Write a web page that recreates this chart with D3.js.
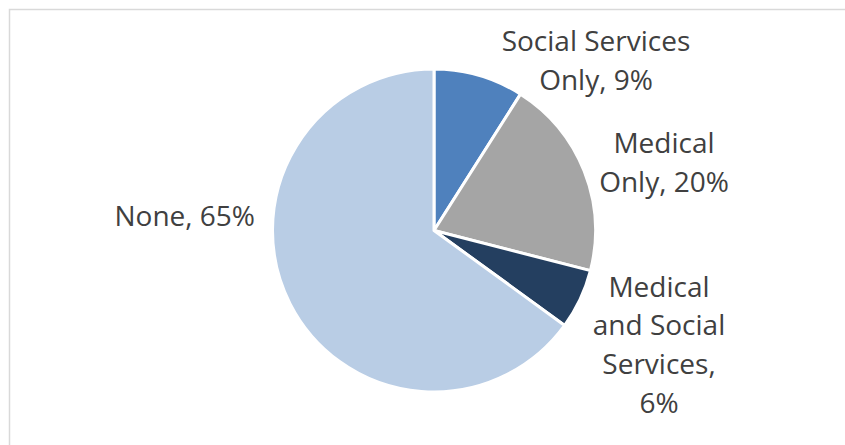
<!DOCTYPE html>
<html lang="en">
  <head>
    <meta charset="UTF-8" />
    <title>Pie Chart: Services</title>
    <script src="https://d3js.org/d3.v7.min.js"></script>
    <style>
      body { margin: 0; background: #fff; }
    </style>
  </head>
  <body>
    <div id="chart"></div>

    <script>
      // Slices, in clockwise order from 12 o'clock
      const categories = [
        "Social Services Only",
        "Medical Only",
        "Medical and Social Services",
        "None",
      ];
      const values = [9, 20, 6, 65];
      // label lines as shown on the chart
      const labelLines = [
        ["Social Services", "Only, 9%"],
        ["Medical", "Only, 20%"],
        ["Medical", "and Social", "Services,", "6%"],
        ["None, 65%"],
      ];
      const colors = ["#4f81bd", "#a5a5a5", "#243f60", "#b9cde5"];

      const width = 845,
        height = 445;
      const cx = 434,
        cy = 230.5,
        radius = 161.5;

      const svg = d3
        .select("#chart")
        .append("svg")
        .attr("width", width)
        .attr("height", height);

      // chart area border
      svg
        .append("rect")
        .attr("x", 9.5)
        .attr("y", 9.5)
        .attr("width", width + 20)
        .attr("height", height + 20)
        .attr("fill", "none")
        .attr("stroke", "#d9d9d9")
        .attr("stroke-width", 1.5);

      const data = categories.map((c, i) => ({
        name: c,
        value: values[i],
        lines: labelLines[i],
        color: colors[i],
      }));

      const pie = d3.pie().sort(null).value((d) => d.value);
      const arcs = pie(data);

      const arc = d3.arc().innerRadius(0).outerRadius(radius);

      const g = svg.append("g").attr("transform", `translate(${cx},${cy})`);

      g.selectAll("path")
        .data(arcs)
        .join("path")
        .attr("d", arc)
        .attr("fill", (d) => d.data.color)
        .attr("stroke", "#fff")
        .attr("stroke-width", 3)
        .attr("stroke-linejoin", "round");

      // label block centres relative to pie centre
      const labelPos = [
        [162, -170],
        [230, -68],
        [225, 114.5],
        [-179, -14],
      ];

      const lineH = 38.7;
      const labels = g
        .selectAll("text")
        .data(arcs)
        .join("text")
        .attr("font-family", "'Open Sans', sans-serif")
        .attr("font-size", 28)
        .attr("fill", "#404040")
        .attr("text-anchor", (d, i) => (i === 3 ? "end" : "middle"));

      labels.each(function (d, i) {
        const t = d3.select(this);
        const n = d.data.lines.length;
        d.data.lines.forEach((line, j) => {
          t.append("tspan")
            .attr("x", labelPos[i][0])
            .attr("y", labelPos[i][1] + (j - (n - 1) / 2) * lineH)
            .attr("dy", "0.35em")
            .text(line);
        });
      });
    </script>
  </body>
</html>
